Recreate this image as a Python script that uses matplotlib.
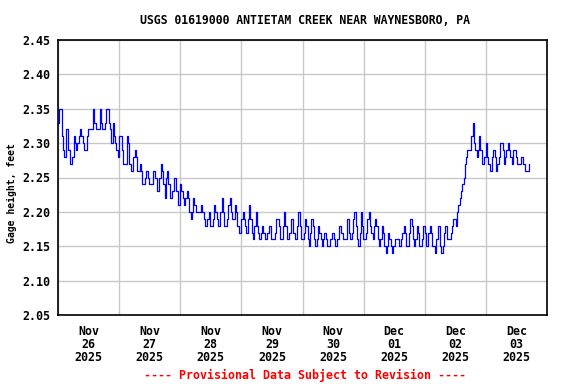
import matplotlib
matplotlib.use("Agg")
import matplotlib.pyplot as plt
import numpy as np
import pandas as pd

# gage height readings in hundredths of a foot (about every 30 min)
part1 = [233, 235, 235, 231, 229, 228, 232, 232, 229, 227, 227, 228, 231, 230, 229, 230,
         231, 232, 231, 230, 229, 229, 231, 232, 232, 232, 232, 235, 233, 232, 232, 232,
         235, 233, 232, 232, 233, 235, 235, 233, 232, 230, 233, 231, 230, 229, 228]
part2 = [231, 231, 229, 227, 227, 227, 231, 230, 227, 226, 226, 228]
part3 = [229, 228, 226, 226, 227, 226, 224, 224, 225, 226, 225, 224, 224, 224, 226, 226,
         225, 223, 223, 225, 227, 226, 224, 222, 225, 226, 224, 222, 222, 223, 225, 225,
         223, 221, 221, 224, 223, 222, 221, 222, 223, 222, 220, 219, 220, 222, 221, 220,
         220, 220, 220, 221, 220, 219, 218, 218, 219, 220]
part4 = [218, 218, 219, 221, 220, 219, 218, 218, 220, 222, 220, 218, 218, 219, 221, 222,
         220, 219, 219, 221, 220, 218, 217, 217, 219, 220, 219, 218, 217, 219, 221, 219,
         217, 216, 218, 220, 218, 217, 216, 217, 218, 217, 216, 216, 217, 218, 218, 216,
         216, 216, 217, 219, 219, 218, 216, 216, 218, 220, 218, 216, 216]
part5 = [217, 219, 219, 217, 216, 216, 218, 220, 218, 216, 216, 217, 219, 218, 216, 215,
         217, 219, 218, 216, 215, 216, 218, 217, 216, 215, 216, 217, 216, 215, 215, 216,
         216, 217, 216, 215, 215, 216, 218, 218, 217, 216, 216, 216, 219, 219, 217, 216,
         217, 219, 220, 218, 216, 215, 217, 220, 218, 216, 216, 217]
part6 = [219, 220, 218, 217, 216, 218, 219, 218, 216, 215, 216, 218, 217, 215, 214, 215,
         217, 216, 215, 214, 215, 216, 216, 216, 215, 215, 216, 217, 218, 217, 215, 215,
         217, 219, 218, 216, 215, 216, 218, 217, 215, 215, 216, 218, 217, 215, 215, 217,
         218, 217, 215, 215, 214, 216, 218, 218, 215, 214, 215, 217, 218]
part7 = [216, 216, 216, 217, 218, 219, 219, 218, 220, 221, 222, 223, 224, 225, 227, 228,
         229, 229, 229, 231, 233, 230, 229, 228, 229, 231, 229, 227, 227, 228, 230, 228,
         227, 226, 226, 228, 229, 228, 226, 227, 228, 230, 230, 229, 227, 228, 229, 230,
         229, 228, 227, 229, 229, 228, 227, 227, 227, 228, 228, 227, 226, 226, 226, 227]

y_ticks = [2.05, 2.10, 2.15, 2.20, 2.25, 2.30, 2.35, 2.40, 2.45]
day_labels = ["Nov\n26\n2025", "Nov\n27\n2025", "Nov\n28\n2025", "Nov\n29\n2025",
              "Nov\n30\n2025", "Dec\n01\n2025", "Dec\n02\n2025", "Dec\n03\n2025"]

gage = np.array(part1 + part2 + part3 + part4 + part5 + part6 + part7) / 100.0
times = pd.date_range("2025-11-26 00:00", "2025-12-03 16:45", periods=len(gage))

mono = "DejaVu Sans Mono"

fig = plt.figure(figsize=(5.76, 3.84), dpi=100)
ax = fig.add_axes([58 / 576, 1 - 315 / 384, 489 / 576, 275 / 384])

ax.plot(times, gage, color="#0000ff", lw=0.9, drawstyle="steps-post")

x0 = pd.Timestamp("2025-11-26")
x1 = pd.Timestamp("2025-12-04")
ax.set_xlim(x0, x1)
ax.set_ylim(2.05, 2.45)

# grid at midnight, labels at noon
midnights = pd.date_range(x0, x1, freq="D")
noons = midnights[:-1] + pd.Timedelta(hours=12)
ax.set_xticks(midnights, minor=True)
ax.set_xticks(noons)
ax.set_xticklabels(day_labels, fontfamily=mono, fontweight="bold", fontsize=8.4,
                   linespacing=1.03)
ax.set_yticks(y_ticks)
ax.set_yticklabels([f"{v:.2f}" for v in y_ticks], fontfamily=mono,
                   fontweight="bold", fontsize=8.4)
ax.tick_params(axis="both", which="both", length=0)
ax.tick_params(axis="x", pad=7)
ax.tick_params(axis="y", pad=5.5)

ax.grid(True, which="minor", axis="x", color="#c8c8c8", lw=1)
ax.grid(True, which="major", axis="y", color="#c8c8c8", lw=1)
ax.set_axisbelow(True)
for s in ax.spines.values():
    s.set_linewidth(1.2)
    s.set_color("black")

fig.text(305 / 576, 1 - 20 / 384, "USGS 01619000 ANTIETAM CREEK NEAR WAYNESBORO, PA",
         ha="center", va="center", fontfamily=mono, fontweight="bold", fontsize=8.3)
fig.text(12 / 576, 1 - 193 / 384, "Gage height, feet", rotation=90,
         ha="center", va="center", fontfamily=mono, fontweight="bold", fontsize=7)
fig.text(305 / 576, 1 - 375 / 384, "---- Provisional Data Subject to Revision ----",
         ha="center", va="center", fontfamily=mono, fontweight="bold", fontsize=8.4,
         color="red")

fig.savefig("out.png", dpi=100)
